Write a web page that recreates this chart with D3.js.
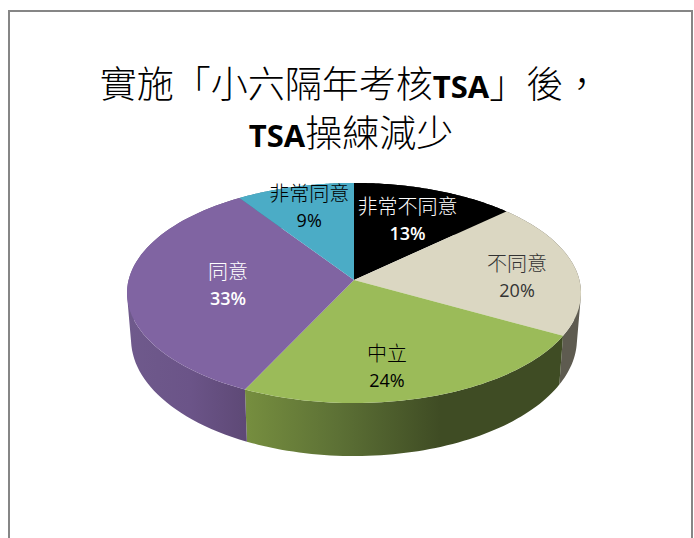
<!DOCTYPE html>
<html lang="zh-Hant"><head><meta charset="utf-8">
<script src="https://cdn.jsdelivr.net/npm/d3@7"></script>
<style>html,body{margin:0;padding:0;background:#fff}svg{display:block}</style>
</head><body><div id="c"></div>
<script>
const categories = ["非常不同意","不同意","中立","同意","非常同意"];
const values = [13, 20, 24, 33.4, 9.4];
const topColors = ["#000000","#dbd7c2","#9bbb59","#8064a2","#4bacc6"];
const labelColors = ["#ffffff","#333333","#000000","#ffffff","#000000"];
const pctWeights = [600,400,400,600,400];
const titleLine1 = [["實施「小六隔年考核",0],["TSA",1],["」後，",0]];
const titleLine2 = [["TSA",1],["操練減少",0]];

const W=694,H=538;
const cjk='"Noto Sans CJK TC","Noto Sans CJK JP",sans-serif';
const lat='"Open Sans",sans-serif';
const svg=d3.select("#c").append("svg").attr("width",W).attr("height",H);
svg.append("rect").attr("width",W).attr("height",H).attr("fill","#fff");
// frame, open at the bottom
svg.append("path").attr("d",d3.line()([[9,H],[9,11],[692,11],[692,H]]))
  .attr("fill","none").attr("stroke","#868686").attr("stroke-width",2);

// perspective projection of the pie disc (upper and lower rim)
const k=0.118;
function rim(cx,cy,A,B){return (a,r=1)=>{const u=r*Math.sin(a),v=r*Math.cos(a),w=1+k*v;
  return [cx+A*u/w,cy-B*v/w];};}
const proj=rim(354,280,225.4,108.5);
const low=rim(354,325.2,221.4,115.4);
const pie=d3.pie().sort(null).value(d=>d);
const arcs=pie(values);
const total=d3.sum(values);
const fmt=d3.format(".0%");
const line=d3.line();
const N=60;
function samples(a0,a1){return d3.range(0,N+1).map(i=>a0+(a1-a0)*i/N);}

const defs=svg.append("defs");
function grad(id,stops){
  const x0=stops[0][0],x1=stops[stops.length-1][0];
  const g=defs.append("linearGradient").attr("id",id).attr("gradientUnits","userSpaceOnUse")
    .attr("x1",x0).attr("x2",x1).attr("y1",0).attr("y2",0);
  stops.forEach(s=>g.append("stop").attr("offset",(s[0]-x0)/(x1-x0)).attr("stop-color",s[1]));
}
grad("s2",[[246,"#768e3f"],[340,"#5c7035"],[440,"#3f4c24"],[564,"#3f4c24"]]);
grad("s3",[[126,"#6f5a8c"],[190,"#6b5488"],[246,"#5e4976"]]);
const sideFill=["#000","#5e5b50","url(#s2)","url(#s3)","#3a7f92"];

const g=svg.append("g");
arcs.forEach((d,i)=>{
  const as=samples(d.startAngle,d.endAngle);
  let path="";
  for(let j=0;j<N;j++){
    let q=[proj(as[j]),proj(as[j+1]),low(as[j+1]),low(as[j])];
    if(d3.polygonArea(q)<0) q=q.reverse();
    path+=line(q)+"Z";
  }
  g.append("path").attr("d",path).attr("fill",sideFill[i]);
});
arcs.forEach((d,i)=>{
  const pts=[proj(0,0)].concat(samples(d.startAngle,d.endAngle).map(a=>proj(a)));
  g.append("path").attr("d",line(pts)+"Z").attr("fill",topColors[i]);
});

// labels
const labelNudge=[[-1,0],[19,6],[-15,15],[21,0],[-5,-10]];
arcs.forEach((d,i)=>{
  const p=proj((d.startAngle+d.endAngle)/2,0.65);
  const x=p[0]+labelNudge[i][0],y=p[1]+labelNudge[i][1];
  g.append("text").attr("x",x).attr("y",y-6).attr("text-anchor","middle")
    .attr("font-family",cjk).attr("font-size",20).attr("font-weight",300).attr("fill",labelColors[i]).text(categories[i]);
  g.append("text").attr("x",x).attr("y",y+20).attr("text-anchor","middle")
    .attr("font-family",lat).attr("font-size",18).attr("font-weight",pctWeights[i]).attr("fill",labelColors[i])
    .text(fmt(d.value/total));
});

// title
function title(runs,y,x){
  const t=svg.append("text").attr("x",x).attr("y",y).attr("text-anchor","middle").attr("fill","#000");
  runs.forEach(r=>t.append("tspan").text(r[0])
    .attr("font-family",r[1]?lat:cjk).attr("font-size",r[1]?31:37).attr("font-weight",r[1]?700:300));
}
title(titleLine1,98,350);
title(titleLine2,147,351);
</script></body></html>
